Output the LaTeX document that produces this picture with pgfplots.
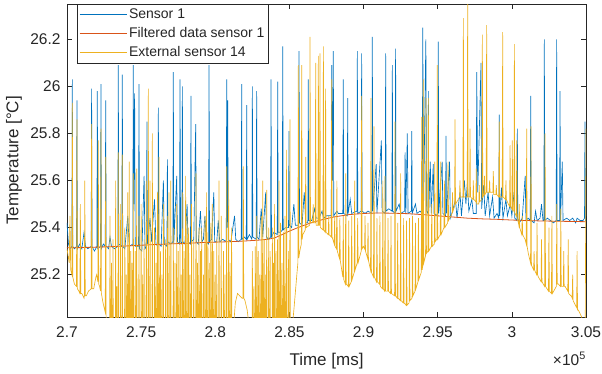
\documentclass[border=0pt]{standalone}
\usepackage{fontspec}
\setmainfont{Liberation Sans}
\usepackage{pgfplots}
\pgfplotsset{compat=1.18}
\definecolor{mblue}{rgb}{0,0.447,0.741}
\definecolor{morange}{rgb}{0.85,0.325,0.098}
\definecolor{myellow}{rgb}{0.929,0.694,0.125}
\definecolor{axgray}{rgb}{0.15,0.15,0.15}
\begin{document}
\begin{tikzpicture}
\begin{axis}[
  scale only axis, width=519pt, height=313pt,
  xmin=270000, xmax=305000, ymin=25.02, ymax=26.35,
  xtick={270000,275000,280000,285000,290000,295000,300000,305000},
  ytick={25.2,25.4,25.6,25.8,26,26.2},
  scaled x ticks=base 10:-5, scaled y ticks=false,
  xtick scale label code/.code={},
  /pgf/number format/assume math mode=true,
  axis line style={axgray, line width=0.5pt},
  every tick/.style={axgray, line width=0.5pt},
  major tick length=5pt, tick align=inside,
  tick label style={font=\fontsize{15.5}{18}\selectfont, text=axgray},
  xticklabel style={yshift=-6pt},
  yticklabel style={xshift=-3pt},
  xlabel={Time [ms]}, ylabel={Temperature [°C]},
  every axis x label/.style={at={(axis description cs:0.5,0)}, anchor=base, yshift=-48pt, font=\fontsize{17}{20}\selectfont, text=axgray},
  every axis y label/.style={at={(axis description cs:0,0.5)}, rotate=90, anchor=center, yshift=53pt, font=\fontsize{17}{20}\selectfont, text=axgray},
  legend cell align=left,
  legend style={at={(axis description cs:0,1)}, anchor=north west, xshift=10pt,
    draw=axgray, fill=white, line width=0.5pt, font=\fontsize{14}{16}\selectfont,
    inner xsep=2pt, inner ysep=2.5pt, row sep=3.5pt, text=axgray},
  legend image code/.code={\draw[#1] (0pt,0pt) -- (47pt,0pt);},
  clip=true,
]
\coordinate (sw) at (rel axis cs:0,0);
\coordinate (se) at (rel axis cs:1,0);
% Sensor 1
\addplot[mblue, line width=0.65pt] coordinates {
(270000,25.42)(270100,25.33)(270200,25.31)(270330,25.32)(270360,26.03)(270390,25.32)(270500,25.31)(270640,25.32)(270670,25.94)(270700,25.31)(270850,25.33)(271000,25.31)(271150,25.38)(271250,25.32)(271400,25.31)(271630,25.32)(271660,25.99)(271690,25.32)(271850,25.30)(272015,25.32)(272045,25.98)(272075,25.31)(272260,25.32)(272290,26.01)(272320,25.31)(272450,25.33)(272580,25.32)(272610,25.94)(272640,25.32)(272800,25.31)(272900,25.36)(273000,25.32)(273200,25.31)(273430,25.32)(273460,26.09)(273490,25.33)(273700,25.32)(273730,26.05)(273760,25.32)(273900,25.31)(274100,25.45)(274200,25.32)(274440,25.33)(274470,26.09)(274500,25.5)(274560,25.97)(274600,25.32)(274825,25.32)(274855,26.01)(274885,25.31)(275050,25.30)(275200,25.62)(275260,25.31)(275360,25.32)(275390,25.85)(275420,25.33)(275600,25.44)(275700,25.34)(275900,25.52)(276000,25.33)(276130,25.32)(276160,25.91)(276190,25.33)(276350,25.32)(276500,25.60)(276560,25.33)(276740,25.32)(276770,25.69)(276800,25.34)(277000,25.33)(277140,25.34)(277170,26.06)(277200,25.33)(277400,25.62)(277450,25.34)(277590,25.33)(277620,26.03)(277660,25.34)(277750,25.33)(277780,26.00)(277810,25.34)(277950,25.33)(278100,25.50)(278160,25.34)(278330,25.33)(278360,25.96)(278390,25.34)(278550,25.35)(278680,25.84)(278720,25.34)(278850,25.33)(279000,25.47)(279100,25.34)(279200,25.35)(279300,25.45)(279400,25.34)(279550,25.33)(279580,26.09)(279610,25.34)(279750,25.35)(279900,25.55)(279960,25.34)(280100,25.34)(280200,25.43)(280300,25.34)(280500,25.35)(280740,25.34)(280770,26.03)(280800,25.4)(280840,25.94)(280870,25.35)(281050,25.34)(281300,25.45)(281380,25.35)(281550,25.34)(281750,25.35)(281780,26.01)(281810,25.35)(281950,25.36)(282090,25.35)(282120,25.92)(282150,25.35)(282300,25.37)(282470,25.35)(282500,26.00)(282530,25.36)(282760,25.35)(282790,25.98)(282820,25.36)(282950,25.35)(283100,25.48)(283200,25.36)(283400,25.55)(283450,25.36)(283600,25.35)(283730,25.36)(283760,26.03)(283790,25.36)(283950,25.38)(284180,25.37)(284210,26.02)(284240,25.38)(284400,25.38)(284520,25.39)(284550,26.17)(284580,25.39)(284750,25.40)(284940,25.40)(284970,25.81)(285000,25.41)(285150,25.40)(285300,25.50)(285400,25.41)(285620,25.41)(285650,26.15)(285680,25.42)(285850,25.41)(286000,25.55)(286100,25.42)(286240,25.42)(286270,26.03)(286300,25.43)(286500,25.43)(286700,25.48)(286800,25.44)(287000,25.44)(287200,25.47)(287300,25.44)(287500,25.45)(287820,25.45)(287850,26.09)(287900,25.6)(287960,26.15)(287990,25.45)(288200,25.47)(288300,25.46)(288600,25.46)(288630,26.03)(288660,25.46)(288900,25.45)(288930,25.95)(288960,25.46)(289100,25.52)(289200,25.46)(289550,25.47)(289580,26.15)(289610,25.46)(289840,25.47)(289870,26.14)(289900,25.47)(290100,25.46)(290300,25.47)(290560,25.46)(290590,26.21)(290620,25.47)(290850,25.67)(290900,25.46)(291200,25.77)(291250,25.47)(291460,25.46)(291490,26.14)(291520,25.47)(291700,25.48)(291910,25.47)(291940,26.09)(291970,25.47)(292130,25.46)(292160,26.16)(292190,25.47)(292400,25.50)(292500,25.46)(292770,25.47)(292800,25.72)(292850,25.46)(292950,25.80)(293000,25.46)(293220,25.47)(293250,25.81)(293280,25.46)(293500,25.50)(293600,25.46)(293800,25.47)(293960,25.46)(293990,26.25)(294050,25.5)(294200,26.20)(294250,25.47)(294340,25.46)(294370,25.98)(294400,25.47)(294500,25.68)(294560,25.46)(294700,25.67)(294750,25.46)(295010,25.45)(295040,26.19)(295070,25.46)(295300,25.68)(295350,25.46)(295530,25.45)(295560,25.79)(295590,25.46)(295800,25.68)(295850,25.44)(296000,25.47)(296200,25.52)(296300,25.44)(296500,25.55)(296600,25.45)(296800,25.60)(296900,25.50)(297000,25.59)(297100,25.47)(297300,25.52)(297400,25.46)(297600,25.46)(297630,26.06)(297700,25.55)(297920,26.10)(297960,25.48)(298100,25.58)(298200,25.45)(298400,25.55)(298500,25.45)(298700,25.53)(298800,25.44)(299000,25.46)(299120,25.44)(299150,25.88)(299180,25.45)(299300,25.57)(299400,25.44)(299600,25.52)(299700,25.45)(299900,25.50)(300000,25.45)(300150,25.55)(300200,25.44)(300340,25.43)(300370,25.82)(300400,25.44)(300500,25.42)(300700,25.44)(300900,25.62)(300950,25.43)(301100,25.44)(301240,25.43)(301270,25.96)(301300,25.43)(301500,25.42)(301600,25.47)(301700,25.43)(301900,25.44)(302000,25.50)(302100,25.43)(302160,25.43)(302190,26.20)(302220,25.43)(302400,25.44)(302600,25.43)(302800,25.42)(302990,25.43)(303020,26.20)(303050,25.43)(303220,25.43)(303250,25.98)(303280,25.43)(303400,25.68)(303450,25.43)(303700,25.44)(303900,25.43)(304100,25.44)(304300,25.42)(304400,25.44)(304600,25.43)(304800,25.43)(304900,25.44)(304930,25.85)(304960,25.43)(305000,25.43)
};
\addlegendentry{Sensor 1}
% Filtered data sensor 1
\addplot[morange, line width=0.8pt] coordinates {
(270000,25.314)(271000,25.315)(272000,25.317)(273000,25.319)(274000,25.322)(275000,25.325)(276000,25.328)(277000,25.331)(278000,25.333)(279000,25.336)(280000,25.338)(281000,25.340)(282000,25.343)(283000,25.347)(283500,25.350)(284000,25.356)(284500,25.370)(285000,25.385)(285500,25.398)(286000,25.410)(286500,25.421)(287000,25.430)(287500,25.438)(288000,25.445)(289000,25.455)(290000,25.460)(291000,25.462)(292000,25.461)(293000,25.459)(294000,25.455)(295000,25.450)(296000,25.445)(297000,25.440)(298000,25.437)(299000,25.435)(300000,25.432)(301000,25.430)(302000,25.428)(303000,25.427)(304000,25.426)(305000,25.425)
};
\addlegendentry{Filtered data sensor 1}
% External sensor 14
\addplot[myellow, line width=0.65pt] coordinates {
(270000,25.31)(270150,25.25)(270200,25.45)(270250,25.22)(270330,25.2)(270360,25.93)(270390,25.19)(270500,25.16)(270640,25.15)(270670,25.86)(270700,25.14)(270800,25.13)(270870,25.12)(270900,25.5)(270930,25.12)(271000,25.12)(271150,25.10)(271170,25.11)(271200,25.6)(271230,25.11)(271300,25.11)(271450,25.13)(271630,25.14)(271660,25.84)(271690,25.14)(271800,25.14)(271950,25.19)(272000,25.2)(272080,25.17)(272110,25.77)(272140,25.16)(272200,25.15)(272260,25.13)(272290,25.82)(272320,25.12)(272430,25.08)(272580,25.04)(272610,25.70)(272640,25.02)(272700,24.98)(272800,24.9)
(272875,24.9)(272900,25.45)(272925,24.9)(272975,24.9)(273000,25.25)(273025,24.9)(273075,24.9)(273100,25.35)(273125,24.9)(273255,24.9)(273280,25.6)(273305,24.9)(273325,24.9)(273350,25.15)(273375,24.9)(273435,24.9)(273460,25.72)(273485,24.9)(273575,24.9)(273600,25.5)(273625,24.9)(273705,24.9)(273730,25.71)(273755,24.9)(273875,24.9)(273900,25.4)(273925,24.9)(273975,24.9)(274000,25.2)(274025,24.9)(274075,24.9)(274100,25.55)(274125,24.9)(274175,24.9)(274200,25.68)(274225,24.9)(274275,24.9)(274300,25.3)(274325,24.9)(274355,24.9)(274380,25.25)(274405,24.9)(274445,24.9)(274470,25.63)(274495,24.9)(274575,24.9)(274600,25.3)(274625,24.9)(274675,24.9)(274700,25.65)(274725,24.9)(274830,24.9)(274855,25.45)(274880,24.9)(274975,24.9)(275000,25.5)(275025,24.9)(275075,24.9)(275100,25.2)(275125,24.9)(275175,24.9)(275200,25.35)(275225,24.9)(275325,24.9)(275350,25.6)(275375,24.9)(275460,24.9)(275485,25.99)(275510,24.9)(275575,24.9)(275600,25.6)(275625,24.9)(275730,24.9)(275755,25.80)(275780,24.9)(275875,24.9)(275900,25.4)(275925,24.9)(275975,24.9)(276000,25.25)(276025,24.9)(276075,24.9)(276100,25.55)(276125,24.9)(276175,24.9)(276200,25.7)(276225,24.9)(276275,24.9)(276300,25.3)(276325,24.9)(276375,24.9)(276400,25.2)(276425,24.9)(276475,24.9)(276500,25.5)(276525,24.9)(276625,24.9)(276650,25.35)(276675,24.9)(276745,24.9)(276770,25.45)(276795,24.9)(276855,24.9)(276880,25.55)(276905,24.9)(276975,24.9)(277000,25.6)(277025,24.9)(277145,24.9)(277170,25.4)(277195,24.9)(277255,24.9)(277280,25.25)(277305,24.9)(277375,24.9)(277400,25.5)(277425,24.9)(277475,24.9)(277500,25.3)(277525,24.9)(277595,24.9)(277620,25.35)(277645,24.9)(277675,24.9)(277700,25.2)(277725,24.9)(277775,24.9)(277800,25.55)(277825,24.9)(277875,24.9)(277900,25.3)(277925,24.9)(277975,24.9)(278000,25.62)(278025,24.9)(278075,24.9)(278100,25.45)(278125,24.9)(278175,24.9)(278200,25.4)(278225,24.9)(278275,24.9)(278300,25.2)(278325,24.9)(278375,24.9)(278400,25.5)(278425,24.9)(278525,24.9)(278550,25.35)(278575,24.9)(278675,24.9)(278700,25.63)(278725,24.9)(278775,24.9)(278800,25.25)(278825,24.9)(278875,24.9)(278900,25.4)(278925,24.9)(278975,24.9)(279000,25.3)(279025,24.9)(279055,24.9)(279080,25.4)(279105,24.9)(279175,24.9)(279200,25.2)(279225,24.9)(279275,24.9)(279300,25.45)(279325,24.9)(279375,24.9)(279400,25.55)(279425,24.9)(279475,24.9)(279500,25.38)(279525,24.9)(279575,24.9)(279600,25.25)(279625,24.9)(279675,24.9)(279700,25.42)(279725,24.9)(279775,24.9)(279800,25.5)(279825,24.9)(279875,24.9)(279900,25.3)(279925,24.9)(279975,24.9)(280000,25.2)(280025,24.9)(280075,24.9)(280100,25.35)(280125,24.9)(280225,24.9)(280250,25.6)(280275,24.9)(280375,24.9)(280400,25.45)(280425,24.9)(280525,24.9)(280550,25.3)(280575,24.9)(280625,24.9)(280650,25.2)(280675,24.9)(280745,24.9)(280770,25.66)(280795,24.9)(280875,24.9)(280900,25.6)(280925,24.9)(280975,24.9)(281000,25.25)(281025,24.9)(281075,24.9)(281100,25.4)(281125,24.9)
(281200,24.95)(281350,25.08)(281500,25.12)(281650,25.11)(281800,25.10)(281860,25.10)(281890,25.66)(281920,25.10)(282000,25.09)(282150,25.05)(282300,24.97)(282400,24.9)
(282475,24.9)(282500,25.3)(282525,24.9)(282575,24.9)(282600,25.15)(282625,24.9)(282675,24.9)(282700,25.32)(282725,24.9)(282775,24.9)(282800,25.45)(282825,24.9)(282875,24.9)(282900,25.3)(282925,24.9)(282975,24.9)(283000,25.2)(283025,24.9)(283075,24.9)(283100,25.45)(283125,24.9)(283175,24.9)(283200,25.6)(283225,24.9)(283275,24.9)(283300,25.35)(283325,24.9)(283375,24.9)(283400,25.2)(283425,24.9)(283445,24.9)(283470,25.56)(283495,24.9)(283575,24.9)(283600,25.4)(283625,24.9)(283675,24.9)(283700,25.3)(283725,24.9)(283825,24.9)(283850,25.40)(283875,24.9)(283905,24.9)(283930,25.25)(283955,24.9)(283975,24.9)(284000,25.5)(284025,24.9)(284075,24.9)(284100,25.3)(284125,24.9)(284175,24.9)(284200,25.35)(284225,24.9)(284275,24.9)(284300,25.6)(284325,24.9)(284375,24.9)(284400,25.42)(284425,24.9)(284475,24.9)(284500,25.25)(284525,24.9)(284575,24.9)(284600,25.38)(284625,24.9)(284675,24.9)(284700,25.45)(284725,24.9)(284785,24.9)(284810,25.73)(284835,24.9)(284905,24.9)(284930,25.3)(284955,24.9)(285015,24.9)(285040,25.86)(285065,24.9)
(285150,24.95)(285300,25.05)(285500,25.2)(285570,25.25)(285600,26.09)(285630,25.27)(285700,25.3)(285800,25.33)(285830,26.09)(285860,25.35)(285900,25.37)(286070,25.39)(286100,25.7)(286130,25.4)
(286360,25.41)(286390,26.21)(286420,25.42)(286500,25.42)(286570,25.42)(286600,25.5)(286630,25.42)(286740,25.42)(286770,26.10)(286800,25.41)(286920,25.41)(286950,26.13)(286980,25.41)(287030,25.41)(287060,26.14)(287090,25.4)(287260,25.39)(287290,26.17)(287320,25.39)(287410,25.38)(287440,25.99)(287470,25.38)(287620,25.37)(287650,25.45)(287680,25.37)(287820,25.36)(287850,26.03)(287880,25.36)(288020,25.33)(288050,25.45)(288080,25.32)(288170,25.31)(288200,25.6)(288230,25.30)(288370,25.27)(288400,25.44)(288430,25.26)(288600,25.19)(288630,25.45)(288660,25.18)(288770,25.16)(288800,25.63)(288830,25.16)(288970,25.15)(289000,25.43)(289030,25.15)(289170,25.17)(289200,25.45)(289230,25.18)(289370,25.21)(289400,25.6)(289430,25.22)(289570,25.25)(289600,25.44)(289630,25.25)(289840,25.30)(289870,25.96)(289900,25.31)(289990,25.32)(290070,25.31)(290100,25.45)(290130,25.30)(290270,25.27)(290300,25.42)(290330,25.26)(290470,25.22)(290500,25.95)(290530,25.21)(290670,25.19)(290700,25.83)(290730,25.19)(290870,25.17)(290900,25.44)(290930,25.17)(291070,25.16)(291100,25.45)(291130,25.15)(291270,25.14)(291300,25.6)(291330,25.14)(291420,25.13)(291450,25.62)(291480,25.13)(291620,25.13)(291650,25.44)(291680,25.13)(291820,25.12)(291850,25.45)(291880,25.12)(292090,25.11)(292120,25.85)(292150,25.11)(292270,25.10)(292300,25.42)(292330,25.10)(292470,25.09)(292500,25.63)(292530,25.09)(292670,25.08)(292700,25.44)(292730,25.08)(292870,25.07)(292900,25.43)(292930,25.07)(293070,25.08)(293100,25.44)(293130,25.09)(293270,25.10)(293300,25.45)(293330,25.11)(293470,25.13)(293500,25.42)(293530,25.14)(293670,25.17)(293700,25.44)(293730,25.18)(293890,25.21)(293920,25.87)(293950,25.22)(294000,25.24)(294030,26.03)(294060,25.25)(294180,25.28)(294210,25.95)(294240,25.29)(294340,25.30)(294370,25.95)(294400,25.30)(294570,25.32)(294600,25.5)(294630,25.32)(294770,25.33)(294800,25.68)(294830,25.34)(294940,25.35)(294970,26.09)(295000,25.35)(295170,25.37)(295200,25.68)(295230,25.37)(295420,25.40)(295450,25.6)(295480,25.40)(295670,25.42)(295700,25.68)(295730,25.43)(295970,25.46)(296000,25.55)(296030,25.47)(296140,25.49)(296170,25.86)(296200,25.5)(296390,25.52)
(296470,25.53)(296500,25.6)(296530,25.53)(296700,25.53)(296730,26.29)(296760,25.53)(296990,25.53)(297020,26.40)(297050,25.53)(297150,25.53)(297180,25.82)(297210,25.53)(297370,25.52)(297400,25.6)(297430,25.52)(297570,25.51)(297600,25.65)(297630,25.5)(297770,25.5)(297800,25.58)(297830,25.51)(297980,25.52)(298010,26.22)(298040,25.53)(298120,25.54)(298150,25.62)(298180,25.54)(298270,25.55)(298300,26.26)(298330,25.55)(298470,25.55)(298500,25.6)(298530,25.55)(298720,25.55)(298750,25.64)(298780,25.54)(298920,25.54)(298950,25.58)(298980,25.54)(299120,25.53)(299150,25.85)(299180,25.53)(299350,25.53)(299380,26.23)(299410,25.53)(299570,25.52)(299600,25.6)(299630,25.52)(299760,25.5)(299850,25.49)(299880,25.75)(299910,25.49)(300000,25.48)(300030,25.77)(300060,25.47)(300140,25.47)(300170,26.18)(300200,25.46)(300300,25.45)(300330,25.77)(300360,25.44)(300440,25.42)
(300470,25.41)(300500,25.5)(300530,25.40)(300670,25.37)(300700,25.45)(300730,25.37)(300890,25.35)(300970,25.33)(301000,25.82)(301030,25.32)(301110,25.29)(301260,25.25)(301290,25.83)(301320,25.24)(301470,25.22)(301500,25.3)(301530,25.22)(301670,25.20)(301700,25.42)(301730,25.20)(301790,25.19)(301970,25.17)(302000,25.35)(302030,25.17)(302210,25.15)(302240,25.80)(302270,25.15)(302470,25.13)(302500,25.4)(302530,25.13)(302670,25.12)(302700,25.45)(302730,25.12)(303000,25.15)(303030,25.50)(303060,25.16)(303140,25.16)(303270,25.15)(303300,25.48)(303330,25.15)(303470,25.15)(303500,25.3)(303530,25.15)(303590,25.15)(303770,25.13)(303800,25.35)(303830,25.12)(304030,25.107)(304070,25.1)(304100,25.2)(304130,25.09)(304370,25.06)(304400,25.3)(304430,25.05)(304480,25.05)(304710,25.02)(304830,24.98)(304950,24.98)(305000,25.82)
};
\addlegendentry{External sensor 14}
\end{axis}
\node[anchor=base east, font=\fontsize{15.5}{18}\selectfont, text=axgray, inner sep=0pt] at ([yshift=-48pt]se) {×10\textsuperscript{5}};
\pgfresetboundingbox
\useasboundingbox ([xshift=-67pt,yshift=-56pt]sw) rectangle ++(602pt,373pt);
\end{tikzpicture}
\end{document}
